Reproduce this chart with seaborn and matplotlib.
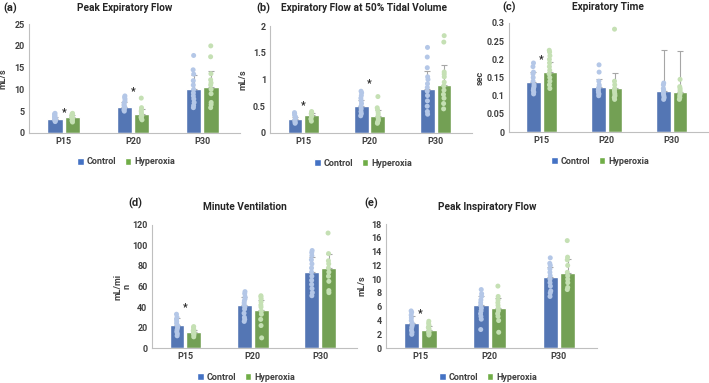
import matplotlib
import matplotlib.pyplot as plt
import seaborn as sns
import pandas as pd
import numpy as np
from matplotlib.patches import Patch

matplotlib.use('Agg')

groups = ['P15', 'P20', 'P30']
treatments = ['Control', 'Hyperoxia']

# (a) peak expiratory flow, mL/s
pef_mean = {'Control': [3.1, 6.0, 10.2], 'Hyperoxia': [3.7, 4.3, 10.6]}
pef_sd = {'Control': [0.5, 1.0, 3.1], 'Hyperoxia': [0.5, 1.1, 3.7]}
pef_dots = {
    'Control': [[2.6, 2.8, 2.9, 3.0, 3.2, 3.3, 3.4, 3.6, 3.8, 4.0, 4.3, 4.5],
                [5.0, 5.3, 5.6, 5.9, 6.2, 6.5, 6.9, 7.3, 7.8, 8.2, 8.5],
                [5.8, 6.3, 7.0, 7.8, 8.5, 9.2, 10.0, 11.0, 12.0, 13.5, 14.5, 17.8]],
    'Hyperoxia': [[2.5, 2.8, 3.0, 3.3, 3.5, 3.6, 3.9, 4.1, 4.3, 4.5],
                  [3.0, 3.3, 3.6, 3.9, 4.2, 4.6, 5.0, 5.4, 5.8, 8.0],
                  [5.8, 6.5, 7.0, 9.0, 10.0, 11.0, 11.5, 12.2, 13.6, 17.5, 20.0]],
}

# (b) expiratory flow at 50% tidal volume, mL/s
ef50_mean = {'Control': [0.26, 0.50, 0.82], 'Hyperoxia': [0.33, 0.31, 0.89]}
ef50_sd = {'Control': [0.04, 0.11, 0.33], 'Hyperoxia': [0.05, 0.12, 0.39]}
ef50_dots = {
    'Control': [[0.18, 0.20, 0.22, 0.25, 0.28, 0.30, 0.33, 0.36, 0.38],
                [0.32, 0.36, 0.40, 0.45, 0.50, 0.55, 0.60, 0.65, 0.70, 0.75, 0.78],
                [0.35, 0.40, 0.50, 0.60, 0.70, 0.78, 0.85, 0.92, 1.00, 1.05, 1.22, 1.42, 1.60]],
    'Hyperoxia': [[0.22, 0.26, 0.30, 0.33, 0.36, 0.38, 0.40],
                  [0.18, 0.20, 0.23, 0.26, 0.30, 0.34, 0.38, 0.43, 0.47, 0.68],
                  [0.45, 0.55, 0.65, 0.72, 0.80, 0.88, 0.95, 1.05, 1.10, 1.14, 1.70, 1.82]],
}

# (c) expiratory time, sec
te_mean = {'Control': [0.137, 0.125, 0.112], 'Hyperoxia': [0.165, 0.121, 0.111]}
te_sd = {'Control': [0.028, 0.020, 0.113], 'Hyperoxia': [0.027, 0.042, 0.111]}
te_dots = {
    'Control': [[0.105, 0.11, 0.115, 0.12, 0.125, 0.13, 0.14, 0.15, 0.16, 0.165, 0.18, 0.19],
                [0.10, 0.105, 0.11, 0.115, 0.12, 0.125, 0.13, 0.14, 0.165, 0.185],
                [0.09, 0.095, 0.10, 0.105, 0.11, 0.115, 0.12, 0.13, 0.135]],
    'Hyperoxia': [[0.12, 0.13, 0.14, 0.15, 0.16, 0.17, 0.18, 0.19, 0.20, 0.21, 0.22, 0.225],
                  [0.09, 0.095, 0.10, 0.105, 0.11, 0.115, 0.12, 0.13, 0.14, 0.283],
                  [0.09, 0.095, 0.10, 0.105, 0.11, 0.115, 0.12, 0.125, 0.145]],
}

# (d) minute ventilation, mL/min
mv_mean = {'Control': [23, 42, 74], 'Hyperoxia': [16, 37, 78]}
mv_sd = {'Control': [6, 8, 15], 'Hyperoxia': [2, 10, 14]}
mv_dots = {
    'Control': [[12, 14, 16, 18, 20, 22, 24, 26, 28, 30, 33],
                [26, 28, 30, 34, 38, 40, 42, 44, 46, 48, 50, 53, 55],
                [51, 54, 58, 62, 66, 70, 74, 78, 82, 86, 90, 93, 95]],
    'Hyperoxia': [[11, 13, 14, 15, 16, 17, 18, 20, 21],
                  [10, 22, 28, 33, 36, 40, 42, 45, 48, 50, 51],
                  [54, 56, 65, 70, 74, 78, 82, 85, 92, 112]],
}

# (e) peak inspiratory flow, mL/s
pif_mean = {'Control': [3.6, 6.2, 10.3], 'Hyperoxia': [2.7, 5.8, 10.9]}
pif_sd = {'Control': [1.1, 1.4, 1.5], 'Hyperoxia': [0.5, 1.5, 2.0]}
pif_dots = {
    'Control': [[2.0, 2.3, 2.6, 3.0, 3.3, 3.6, 4.0, 4.4, 4.8, 5.2, 5.4],
                [2.7, 4.2, 4.6, 5.0, 5.4, 5.8, 6.2, 6.6, 7.0, 7.5, 7.9, 8.5],
                [7.5, 8.0, 8.3, 9.0, 9.5, 10.0, 10.5, 11.0, 11.5, 12.0, 12.3, 13.1]],
    'Hyperoxia': [[1.9, 2.1, 2.3, 2.5, 2.8, 3.0, 3.3, 3.6, 3.9],
                  [2.3, 4.0, 4.6, 5.0, 5.4, 5.8, 6.2, 6.6, 7.0, 7.5, 9.0],
                  [8.5, 8.8, 9.5, 10.0, 10.5, 11.0, 12.0, 12.8, 13.2, 15.6]],
}

# significance stars: (group index, star height)
pef_stars = [(0, 4.8), (1, 9.6)]
ef50_stars = [(0, 0.52), (1, 0.93)]
te_stars = [(0, 0.2)]
mv_stars = [(0, 40)]
pif_stars = [(0, 5.0)]

bar_colors = {'Control': '#4472C4', 'Hyperoxia': '#70AD47'}
dot_colors = {'Control': '#B4C7E7', 'Hyperoxia': '#C5E0B4'}
text_color = '#404040'

sns.set_style('white')
plt.rcParams['font.family'] = ['Roboto', 'DejaVu Sans']

fig = plt.figure(figsize=(7.09, 3.83), dpi=100)


def bar_frame(means):
    rows = []
    for t in treatments:
        for g, v in zip(groups, means[t]):
            rows.append({'group': g, 'treatment': t, 'value': v})
    return pd.DataFrame(rows)


def dot_frame(dots):
    rows = []
    for t in treatments:
        for g, vals in zip(groups, dots[t]):
            for v in vals:
                rows.append({'group': g, 'treatment': t, 'value': v})
    return pd.DataFrame(rows)


def draw_panel(rect, means, sds, dots, stars, ymax, ystep, ylabel, ylabel_x,
               title, title_xy, letter, letter_xy, legend_xy):
    ax = fig.add_axes(rect)
    sns.barplot(data=bar_frame(means), x='group', y='value', hue='treatment',
                order=groups, hue_order=treatments, palette=bar_colors,
                width=0.5, gap=0.12, errorbar=None, legend=False, ax=ax)
    np.random.seed(3)
    sns.stripplot(data=dot_frame(dots), x='group', y='value', hue='treatment',
                  order=groups, hue_order=treatments, palette=dot_colors,
                  dodge=True, jitter=0.03, size=3.6, legend=False, ax=ax)
    # pull the dot columns in so they sit over the narrower bars
    for coll in ax.collections:
        off = coll.get_offsets()
        if len(off) == 0:
            continue
        centre = np.round(off[:, 0])
        off[:, 0] = centre + (off[:, 0] - centre) * 0.62
        coll.set_offsets(off)

    # upper-only error bars on each bar
    for p in ax.patches:
        cx = p.get_x() + p.get_width() / 2
        gi = int(round(cx))
        t = treatments[0] if cx < gi else treatments[1]
        ax.errorbar(cx, p.get_height(), yerr=[[0], [sds[t][gi]]], fmt='none',
                    ecolor='#A6A6A6', elinewidth=0.8, capsize=2, capthick=0.8)

    for gi, y in stars:
        ax.text(gi, y, '*', ha='center', va='center', fontsize=7.5,
                fontweight='bold', color='#262626')

    ax.set_ylim(0, ymax)
    ax.set_xlim(-0.5, 2.55)
    ticks = np.arange(0, ymax + ystep / 2, ystep)
    ax.set_yticks(ticks)
    ax.set_yticklabels([f'{v:g}' for v in ticks])
    ax.tick_params(axis='both', length=0, labelsize=6.5, labelcolor=text_color, pad=3)
    for lab in ax.get_xticklabels() + ax.get_yticklabels():
        lab.set_fontweight('bold')
    ax.set_xlabel('')
    ax.set_ylabel(ylabel, fontsize=6.5, fontweight='bold', color=text_color,
                  linespacing=1.0)
    ax.yaxis.set_label_coords(ylabel_x, 0.5)
    for side in ['top', 'right']:
        ax.spines[side].set_visible(False)
    for side in ['left', 'bottom']:
        ax.spines[side].set_color('#BFBFBF')
        ax.spines[side].set_linewidth(0.8)

    fig.text(title_xy[0] / 709, 1 - title_xy[1] / 383, title, ha='center', va='center',
             fontsize=7.3, fontweight='bold', color='#262626')
    fig.text(letter_xy[0] / 709, 1 - letter_xy[1] / 383, letter, ha='left', va='center',
             fontsize=8, fontweight='bold', color='#262626')
    handles = [Patch(facecolor=bar_colors[t], label=t) for t in treatments]
    leg = fig.legend(handles=handles, loc='center',
                     bbox_to_anchor=(legend_xy[0] / 709, 1 - legend_xy[1] / 383),
                     ncol=2, frameon=False, fontsize=6.5, handlelength=0.7,
                     handleheight=0.7, handletextpad=0.3, columnspacing=1.0)
    for txt in leg.get_texts():
        txt.set_color(text_color)
        txt.set_fontweight('bold')
    return ax


draw_panel([0.041, 0.653, 0.298, 0.284], pef_mean, pef_sd, pef_dots, pef_stars,
           25, 5, 'mL/s', -0.10, 'Peak Expiratory Flow', (125, 8), '(a)', (3, 8), (126, 162))
draw_panel([0.381, 0.653, 0.285, 0.279], ef50_mean, ef50_sd, ef50_dots, ef50_stars,
           2, 0.5, 'mL/s', -0.11, 'Expiratory Flow at 50% Tidal Volume', (364, 8), '(b)',
           (256, 8), (363, 163))
draw_panel([0.718, 0.655, 0.280, 0.285], te_mean, te_sd, te_dots, te_stars,
           0.3, 0.05, 'sec', -0.12, 'Expiratory Time', (608, 7), '(c)', (502, 7), (600, 161))
draw_panel([0.214, 0.091, 0.290, 0.322], mv_mean, mv_sd, mv_dots, mv_stars,
           120, 20, 'mL/mi\nn', -0.10, 'Minute Ventilation', (245, 207), '(d)', (128, 203),
           (246, 377))
draw_panel([0.544, 0.091, 0.298, 0.324], pif_mean, pif_sd, pif_dots, pif_stars,
           18, 2, 'mL/s', -0.09, 'Peak Inspiratory Flow', (487, 207), '(e)', (364, 203),
           (488, 377))

fig.savefig('out.png', dpi=100)
